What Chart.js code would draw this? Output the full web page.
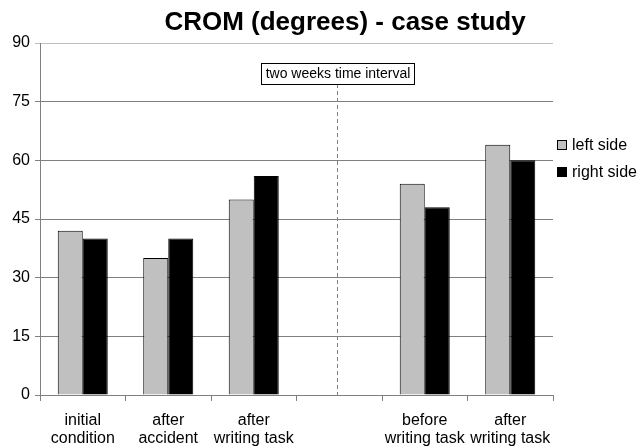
<!DOCTYPE html>
<html><head><meta charset="utf-8">
<script src="https://cdn.jsdelivr.net/npm/chart.js@4/dist/chart.umd.min.js"></script>
<style>html,body{margin:0;padding:0;background:#fff}#wrap{width:638px;height:447px}</style>
</head><body><div id="wrap"><canvas id="c" width="638" height="447"></canvas></div>
<script>
const categories = [["initial","condition"],["after","accident"],["after","writing task"],"",["before","writing task"],["after","writing task"]];
const leftSide = [42, 35, 50, null, 54, 64];
const rightSide = [40, 40, 56, null, 48, 60];
const yTicks = [0, 15, 30, 45, 60, 75, 90];
const titleText = "CROM (degrees) - case study";
const intervalText = "two weeks time interval";
const FONT = "'Liberation Sans', Arial, sans-serif";

const overlay = {
  id: 'overlay',
  afterDraw(chart) {
    const ctx = chart.ctx, ca = chart.chartArea, xs = chart.scales.x;
    ctx.save();
    // title
    ctx.fillStyle = '#000';
    ctx.font = 'bold 26px ' + FONT;
    ctx.textAlign = 'center'; ctx.textBaseline = 'alphabetic';
    ctx.fillText(titleText, 345, 30);
    // dashed interval line
    const xm = Math.round(xs.getPixelForValue(3)) - 1.5;
    ctx.strokeStyle = '#808080'; ctx.lineWidth = 1; ctx.setLineDash([4, 3]);
    ctx.beginPath(); ctx.moveTo(xm, 84); ctx.lineTo(xm, ca.bottom); ctx.stroke();
    ctx.setLineDash([]);
    // interval box
    ctx.font = '14px ' + FONT;
    ctx.textBaseline = 'middle';
    const tw = ctx.measureText(intervalText).width;
    const bw = Math.round(tw + 8), bx = Math.round(xm + 1 - bw / 2) - 0.5;
    ctx.fillStyle = '#fff'; ctx.fillRect(bx, 63.5, bw, 21);
    ctx.strokeStyle = '#000'; ctx.strokeRect(bx, 63.5, bw, 21);
    ctx.fillStyle = '#000'; ctx.fillText(intervalText, bx + bw / 2, 74.5);
    // legend
    ctx.textAlign = 'left';
    chart.data.datasets.forEach((ds, i) => {
      const y = 145 + i * 27;
      ctx.fillStyle = ds.backgroundColor; ctx.fillRect(557.5, y - 4.5, 9, 9);
      ctx.strokeStyle = '#000'; ctx.strokeRect(557.5, y - 4.5, 9, 9);
      ctx.fillStyle = '#000'; ctx.font = '16px ' + FONT;
      ctx.fillText(ds.label, 572, y + 1);
    });
    ctx.restore();
  }
};

new Chart(document.getElementById('c'), {
  type: 'bar',
  data: {
    labels: categories,
    datasets: [
      { label: 'left side', data: leftSide, backgroundColor: '#c0c0c0', borderColor: '#000', borderWidth: 1, borderSkipped: 'bottom', barPercentage: 1, categoryPercentage: 0.585 },
      { label: 'right side', data: rightSide, backgroundColor: '#000000', borderColor: '#000', borderWidth: 1, borderSkipped: 'bottom', barPercentage: 1, categoryPercentage: 0.585 }
    ]
  },
  options: {
    responsive: false, animation: false,
    layout: { padding: { top: 43, right: 85, left: 0, bottom: 0 } },
    plugins: { legend: { display: false }, title: { display: false }, tooltip: { enabled: false } },
    scales: {
      x: {
        offset: true,
        afterFit: s => { s.height = 52; },
        grid: { offset: true, drawOnChartArea: false, drawTicks: true, tickLength: 6, color: '#808080' },
        border: { color: '#808080' },
        ticks: { color: '#000', font: { family: FONT, size: 16, lineHeight: 1.125 }, padding: 11, maxRotation: 0, autoSkip: false }
      },
      y: {
        min: 0, max: 90,
        afterFit: s => { s.width = 40; },
        afterBuildTicks: s => { s.ticks = yTicks.map(v => ({ value: v })); },
        grid: { color: ctx => ctx.tick && ctx.tick.value === 90 ? '#c0c0c0' : '#808080', tickLength: 5 },
        border: { color: '#808080' },
        ticks: { color: '#000', font: { family: FONT, size: 16 }, padding: 5 }
      }
    }
  },
  plugins: [overlay]
});
</script></body></html>
